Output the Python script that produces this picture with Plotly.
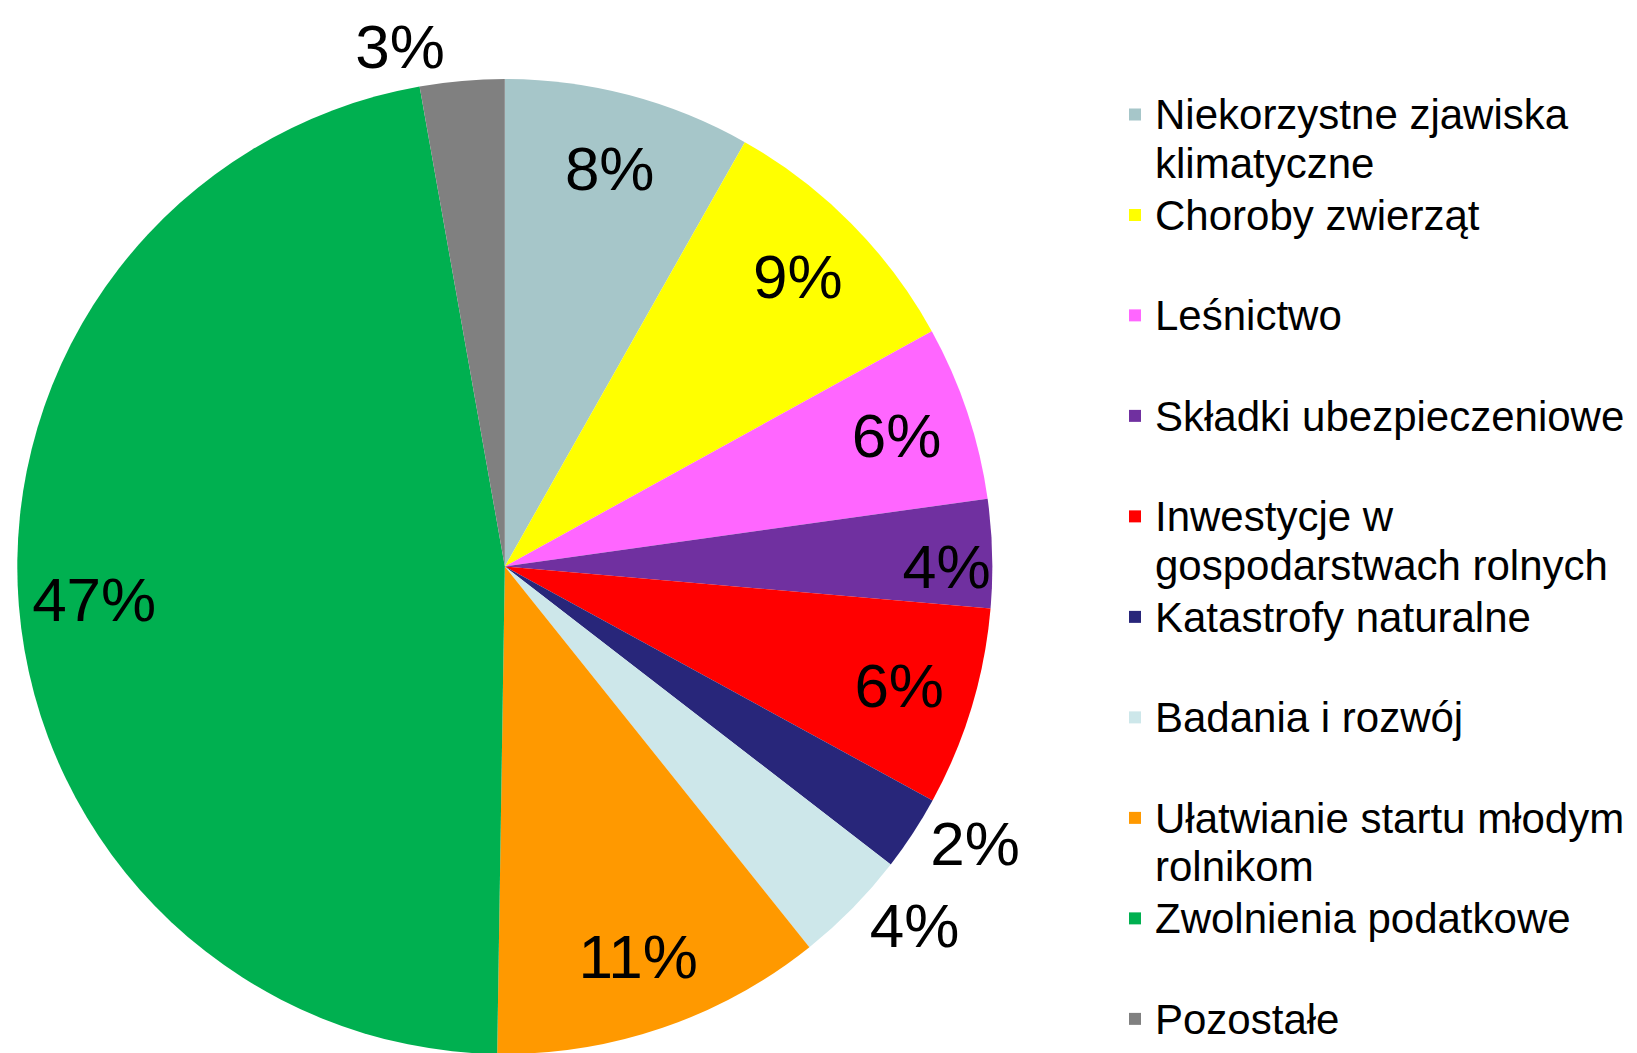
import plotly.graph_objects as go

# ---- data ----
categories = [
    "Niekorzystne zjawiska klimatyczne",
    "Choroby zwierząt",
    "Leśnictwo",
    "Składki ubezpieczeniowe",
    "Inwestycje w gospodarstwach rolnych",
    "Katastrofy naturalne",
    "Badania i rozwój",
    "Ułatwianie startu młodym rolnikom",
    "Zwolnienia podatkowe",
    "Pozostałe",
]
values = [8.2, 8.8, 5.8, 3.6, 6.6, 2.5, 3.8, 11.0, 47.0, 2.8]
pct_labels = ["8%", "9%", "6%", "4%", "6%", "2%", "4%", "11%", "47%", "3%"]
colors = ["#A6C6C9", "#FFFF00", "#FF66FF", "#7030A0", "#FF0000",
          "#28267A", "#CDE7EA", "#FF9900", "#00B050", "#808080"]
label_positions = ["inside", "inside", "inside", "inside", "inside",
                   "outside", "outside", "inside", "inside", "outside"]

# legend display text (line wrapping as in the original)
wrapped = {
    "Niekorzystne zjawiska klimatyczne": ["Niekorzystne zjawiska", "klimatyczne"],
    "Inwestycje w gospodarstwach rolnych": ["Inwestycje w", "gospodarstwach rolnych"],
    "Ułatwianie startu młodym rolnikom": ["Ułatwianie startu młodym", "rolnikom"],
}
def legend_text(c):
    lines = wrapped.get(c, [c, " "])
    return "<br>".join('<span style="font-size:42px">%s</span>' % l if l.strip() else l
                       for l in lines)

legend_labels = [legend_text(c) for c in categories]

W, H = 1637, 1053
FONT = "Liberation Sans, Arial, sans-serif"
dom_x = [0.0055, 0.6015]
dom_y = [0.0066, 0.9326]

fig = go.Figure()
# main pie (colored slices, legend)
fig.add_trace(go.Pie(
    labels=legend_labels,
    values=values,
    sort=False,
    direction="clockwise",
    rotation=0,
    marker=dict(colors=colors, line=dict(width=0)),
    textinfo="none",
    hoverinfo="skip",
    showlegend=True,
    domain=dict(x=dom_x, y=dom_y),
))
# transparent overlay ring used only to place percentage labels near the rim
fig.add_trace(go.Pie(
    labels=legend_labels,
    values=values,
    sort=False,
    direction="clockwise",
    rotation=0,
    hole=0.69,
    marker=dict(colors=["rgba(0,0,0,0)"] * len(values), line=dict(width=0)),
    text=pct_labels,
    textinfo="text",
    textposition=label_positions,
    insidetextorientation="horizontal",
    textfont=dict(family=FONT, size=62, color="black"),
    hoverinfo="skip",
    showlegend=False,
    domain=dict(x=dom_x, y=dom_y),
))

fig.update_layout(
    width=W, height=H,
    margin=dict(l=0, r=0, t=0, b=0, autoexpand=False),
    paper_bgcolor="white",
    plot_bgcolor="white",
    font=dict(family=FONT, color="black"),
    legend=dict(
        x=1107 / W, xanchor="left",
        y=1 - 75.5 / H, yanchor="top",
        font=dict(family=FONT, size=37.5, color="black"),
        valign="top",
        bgcolor="rgba(0,0,0,0)",
        borderwidth=0,
        traceorder="normal",
    ),
)

fig.write_html("out.html")
